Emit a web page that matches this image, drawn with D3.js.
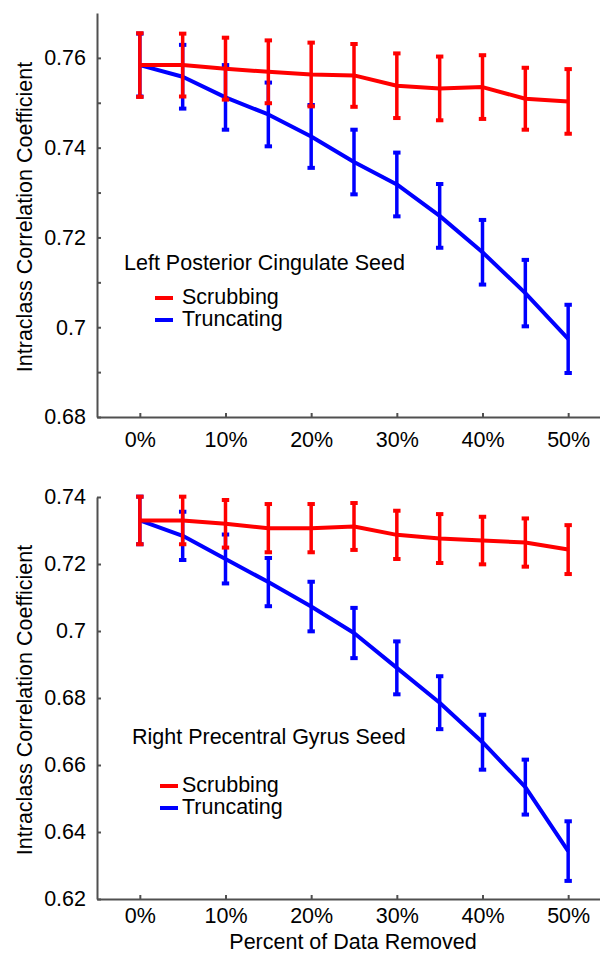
<!DOCTYPE html>
<html lang="en">

<head>
  <meta charset="UTF-8">
  <title>ICC vs percent of data removed</title>
  <style>
    body {
      margin: 0;
      background: #fff;
    }

    svg text {
      font-family: "Liberation Sans", Arial, sans-serif;
      font-size: 21.5px;
      fill: #000;
    }

    .axis path,
    .axis line {
      stroke: #505050;
      stroke-width: 2px;
    }
  </style>
</head>

<body>

  <div id="chart"></div>

  <script src="https://cdnjs.cloudflare.com/ajax/libs/d3/7.8.5/d3.min.js"></script>
  <script>
    // percent of data removed, one point every 5%
    const percents = [0, 5, 10, 15, 20, 25, 30, 35, 40, 45, 50]
    const xTicks = [0, 10, 20, 30, 40, 50]
    const xTickLabels = ['0%', '10%', '20%', '30%', '40%', '50%']
    const seriesNames = ['Scrubbing', 'Truncating']

    // top panel: left posterior cingulate seed
    const topTitle = 'Left Posterior Cingulate Seed'
    const topScrub = [0.7584, 0.7584, 0.7576, 0.7569, 0.7563, 0.7561, 0.7538, 0.7532, 0.7535, 0.7509, 0.7503]
    const topScrubErr = [0.0071, 0.0070, 0.0069, 0.0070, 0.0071, 0.0070, 0.0072, 0.0071, 0.0071, 0.0069, 0.0072]
    const topTrunc = [0.7584, 0.7558, 0.7512, 0.7474, 0.7425, 0.7368, 0.7318, 0.7248, 0.7167, 0.7076, 0.6974]
    const topTruncErr = [0.0070, 0.0071, 0.0072, 0.0071, 0.0070, 0.0072, 0.0071, 0.0071, 0.0072, 0.0074, 0.0076]
    const topYTicks = [0.68, 0.69, 0.70, 0.71, 0.72, 0.73, 0.74, 0.75, 0.76]
    const topYLabels = ['0.68', '', '0.7', '', '0.72', '', '0.74', '', '0.76']

    // bottom panel: right precentral gyrus seed
    const bottomTitle = 'Right Precentral Gyrus Seed'
    const bottomScrub = [0.7330, 0.7330, 0.7320, 0.7307, 0.7307, 0.7312, 0.7287, 0.7276, 0.7270, 0.7264, 0.7243]
    const bottomScrubErr = [0.0071, 0.0071, 0.0071, 0.0072, 0.0072, 0.0070, 0.0072, 0.0073, 0.0071, 0.0072, 0.0073]
    const bottomTrunc = [0.7330, 0.7284, 0.7215, 0.7146, 0.7073, 0.6994, 0.6890, 0.6786, 0.6668, 0.6534, 0.6343]
    const bottomTruncErr = [0.0071, 0.0072, 0.0073, 0.0072, 0.0074, 0.0075, 0.0079, 0.0079, 0.0082, 0.0082, 0.0089]
    const bottomYTicks = [0.62, 0.64, 0.66, 0.68, 0.70, 0.72, 0.74]
    const bottomYLabels = ['0.62', '0.64', '0.66', '0.68', '0.7', '0.72', '0.74']

    const yTitle = 'Intraclass Correlation Coefficient'
    const xTitle = 'Percent of Data Removed'
    const colors = ['#ff0000', '#0000ff']

    const width = 600
    const height = 955

    const svg = d3.select('#chart')
      .append('svg')
      .attr('width', width)
      .attr('height', height)

    // x scale is shared; the original figure is cut off a bit on the right
    const xScale = d3.scaleLinear()
      .domain([-5, 55])
      .range([97, 611])

    function drawPanel(p) {
      const yScale = d3.scaleLinear()
        .domain(p.yDomain)
        .range(p.yRange)

      const g = svg.append('g')

      // y axis, ticks pointing into the plot
      g.append('g')
        .attr('class', 'axis')
        .attr('transform', `translate(${xScale.range()[0]}, 0)`)
        .call(d3.axisLeft(yScale)
          .tickValues(p.yTicks)
          .tickFormat((d, i) => p.yLabels[i])
          .tickSizeInner(-4)
          .tickSizeOuter(0)
          .tickPadding(11))

      // x axis
      g.append('g')
        .attr('class', 'axis')
        .attr('transform', `translate(0, ${p.yRange[0]})`)
        .call(d3.axisBottom(xScale)
          .tickValues(xTicks)
          .tickFormat((d, i) => xTickLabels[i])
          .tickSizeInner(-4)
          .tickSizeOuter(0)
          .tickPadding(p.xPad))

      g.selectAll('.axis text')
        .attr('fill', '#000')
        .style('font-size', '21.5px')
        .style('font-family', '"Liberation Sans", Arial, sans-serif')

      g.append('text')
        .attr('transform', `translate(32, ${(p.yRange[0] + p.yRange[1]) / 2 + 2}) rotate(-90)`)
        .attr('text-anchor', 'middle')
        .text(yTitle)

      // truncating first so scrubbing sits on top
      const series = [
        { name: seriesNames[1], values: p.trunc, errs: p.truncErr, color: colors[1] },
        { name: seriesNames[0], values: p.scrub, errs: p.scrubErr, color: colors[0] }
      ]

      const line = d3.line()
        .x((d, i) => xScale(percents[i]))
        .y(d => yScale(d))

      series.forEach(s => {
        const sg = g.append('g')

        sg.append('path')
          .datum(s.values)
          .attr('d', line)
          .attr('fill', 'none')
          .attr('stroke', s.color)
          .attr('stroke-width', 4)
          .attr('stroke-linejoin', 'round')

        const bars = sg.selectAll('.err')
          .data(s.values)
          .enter()
          .append('g')
          .attr('class', 'err')

        bars.append('line')
          .attr('x1', (d, i) => xScale(percents[i]))
          .attr('x2', (d, i) => xScale(percents[i]))
          .attr('y1', (d, i) => yScale(d + s.errs[i]))
          .attr('y2', (d, i) => yScale(d - s.errs[i]))
          .attr('stroke', s.color)
          .attr('stroke-width', 3.5)

        // caps at both ends
        ;[1, -1].forEach(sign => {
          bars.append('line')
            .attr('x1', (d, i) => xScale(percents[i]) - 3.7)
            .attr('x2', (d, i) => xScale(percents[i]) + 3.7)
            .attr('y1', (d, i) => yScale(d + sign * s.errs[i]))
            .attr('y2', (d, i) => yScale(d + sign * s.errs[i]))
            .attr('stroke', s.color)
            .attr('stroke-width', 4)
        })
      })

      g.append('text')
        .attr('x', p.titleX)
        .attr('y', p.titleY)
        .text(p.title)

      // legend
      const legend = g.selectAll('.legend')
        .data(seriesNames)
        .enter()
        .append('g')
        .attr('class', 'legend')
        .attr('transform', (d, i) => `translate(0, ${p.legendY + i * p.legendGap})`)

      legend.append('line')
        .attr('x1', p.legendX)
        .attr('x2', p.legendX + 18)
        .attr('y1', 0)
        .attr('y2', 0)
        .attr('stroke', (d, i) => colors[i])
        .attr('stroke-width', 4)

      legend.append('text')
        .attr('x', 182)
        .attr('y', 6)
        .text(d => d)
    }

    drawPanel({
      yDomain: [0.68, 0.77], yRange: [417, 13],
      yTicks: topYTicks, yLabels: topYLabels, xPad: 15,
      scrub: topScrub, scrubErr: topScrubErr, trunc: topTrunc, truncErr: topTruncErr,
      title: topTitle, titleX: 124, titleY: 270,
      legendX: 155, legendY: 298, legendGap: 22
    })

    drawPanel({
      yDomain: [0.62, 0.74], yRange: [899, 497],
      yTicks: bottomYTicks, yLabels: bottomYLabels, xPad: 9,
      scrub: bottomScrub, scrubErr: bottomScrubErr, trunc: bottomTrunc, truncErr: bottomTruncErr,
      title: bottomTitle, titleX: 132, titleY: 744,
      legendX: 160, legendY: 786, legendGap: 22
    })

    svg.append('text')
      .attr('x', 353)
      .attr('y', 949)
      .attr('text-anchor', 'middle')
      .text(xTitle)
  </script>
</body>

</html>
